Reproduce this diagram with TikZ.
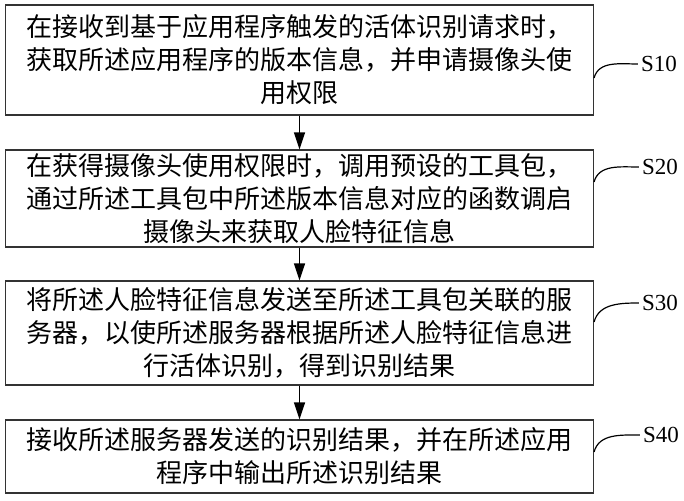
\documentclass[tikz,border=0pt]{standalone}
\usepackage{fontspec}
\setmainfont{Liberation Serif}
\newfontfamily\cjk{Noto Sans CJK SC}
\usetikzlibrary{arrows.meta}

\tikzset{
  stepbox/.style={draw=black!80, line width=1.1pt, minimum width=588pt, inner sep=0pt,
    align=center, font=\cjk\fontsize{26pt}{33pt}\selectfont},
  flowarrow/.style={line width=1.3pt, -{Triangle[length=17pt,width=11pt]}},
  leader/.style={line width=1.2pt},
  steplabel/.style={font=\fontsize{23pt}{26pt}\selectfont, inner sep=3pt},
}

\begin{document}
\begin{tikzpicture}[x=1pt,y=1pt]
\useasboundingbox (0,0) rectangle (684,-500);
% boxes
\node[stepbox, minimum height=110pt] (step1) at (299.5,-60)
  {在接收到基于应用程序触发的活体识别请求时，\\获取所述应用程序的版本信息，并申请摄像头使\\用权限};
\node[stepbox, minimum height=97pt] (step2) at (299.5,-198.5)
  {在获得摄像头使用权限时，调用预设的工具包，\\通过所述工具包中所述版本信息对应的函数调启\\摄像头来获取人脸特征信息};
\node[stepbox, minimum height=104pt] (step3) at (299.5,-333)
  {将所述人脸特征信息发送至所述工具包关联的服\\务器，以使所述服务器根据所述人脸特征信息进\\行活体识别，得到识别结果};
\node[stepbox, minimum height=73pt] (step4) at (299.5,-456.5)
  {接收所述服务器发送的识别结果，并在所述应用\\程序中输出所述识别结果};

% arrows
\draw[flowarrow] (step1) -- (step2);
\draw[flowarrow] (step2) -- (step3);
\draw[flowarrow] (step3) -- (step4);

% step labels
\node[steplabel] (lab1) at (659,-64) {S10};
\node[steplabel] (lab2) at (660,-167) {S20};
\node[steplabel] (lab3) at (660,-303) {S30};
\node[steplabel] (lab4) at (661,-435) {S40};
\draw[leader] ([yshift=-18pt]step1.east) to[out=75,in=180] (lab1.west);
\draw[leader] ([yshift=16.5pt]step2.east) to[out=75,in=180] (lab2.west);
\draw[leader] ([yshift=11pt]step3.east) to[out=75,in=180] (lab3.west);
\draw[leader] ([yshift=4.5pt]step4.east) to[out=75,in=180] (lab4.west);
\end{tikzpicture}
\end{document}
